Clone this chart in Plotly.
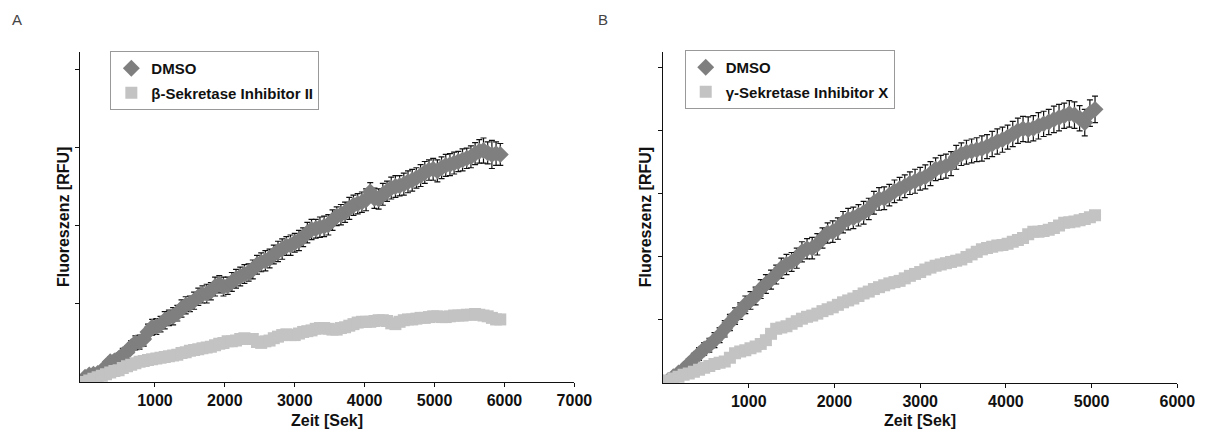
import plotly.graph_objects as go

# Messintervall [Sek]
INTERVALL = 60

# Panel A: DMSO vs. beta-Sekretase Inhibitor II (relative Fluoreszenz)
dmso_a = [0.06, 0.09, 0.10, 0.11, 0.13, 0.20, 0.26, 0.27, 0.30, 0.35,
          0.38, 0.45, 0.50, 0.51, 0.55, 0.64, 0.70, 0.71, 0.74, 0.79,
          0.82, 0.84, 0.88, 0.94, 0.98, 1.00, 1.04, 1.09, 1.12, 1.13,
          1.16, 1.22, 1.25, 1.22, 1.23, 1.28, 1.32, 1.35, 1.38, 1.40,
          1.44, 1.50, 1.53, 1.55, 1.58, 1.63, 1.67, 1.70, 1.74, 1.75,
          1.78, 1.81, 1.85, 1.91, 1.95, 1.96, 1.98, 1.99, 2.01, 2.07,
          2.12, 2.14, 2.17, 2.22, 2.26, 2.28, 2.30, 2.33, 2.43, 2.35,
          2.34, 2.40, 2.44, 2.48, 2.50, 2.51, 2.53, 2.56, 2.58, 2.61,
          2.64, 2.68, 2.71, 2.72, 2.70, 2.74, 2.77, 2.78, 2.80, 2.82,
          2.84, 2.86, 2.88, 2.92, 2.95, 2.96, 2.93, 2.91, 2.92, 2.91]
dmso_a_err = [0.03, 0.03, 0.04, 0.05, 0.05, 0.06, 0.06, 0.07, 0.07, 0.08,
              0.08, 0.08, 0.09, 0.09, 0.09, 0.10, 0.10, 0.10, 0.10, 0.11,
              0.10, 0.11, 0.10, 0.11, 0.11, 0.10, 0.11, 0.11, 0.11, 0.12,
              0.11, 0.12, 0.11, 0.12, 0.11, 0.12, 0.12, 0.12, 0.12, 0.11,
              0.12, 0.12, 0.12, 0.13, 0.12, 0.12, 0.13, 0.13, 0.12, 0.13,
              0.12, 0.13, 0.12, 0.13, 0.13, 0.12, 0.13, 0.13, 0.13, 0.13,
              0.12, 0.13, 0.13, 0.14, 0.13, 0.13, 0.13, 0.14, 0.12, 0.13,
              0.13, 0.14, 0.13, 0.14, 0.14, 0.13, 0.14, 0.14, 0.14, 0.13,
              0.14, 0.14, 0.13, 0.14, 0.14, 0.14, 0.14, 0.14, 0.14, 0.13,
              0.14, 0.13, 0.14, 0.14, 0.15, 0.16, 0.14, 0.18, 0.15, 0.14]
beta_a = [0.00, 0.02, 0.04, 0.06, 0.08, 0.10, 0.12, 0.14, 0.15, 0.18,
          0.20, 0.22, 0.24, 0.26, 0.27, 0.28, 0.29, 0.30, 0.31, 0.32,
          0.33, 0.34, 0.35, 0.37, 0.38, 0.40, 0.41, 0.42, 0.43, 0.44,
          0.45, 0.47, 0.49, 0.50, 0.52, 0.52, 0.53, 0.55, 0.56, 0.55,
          0.55, 0.51, 0.50, 0.52, 0.53, 0.56, 0.58, 0.60, 0.61, 0.60,
          0.60, 0.62, 0.64, 0.65, 0.66, 0.68, 0.69, 0.69, 0.68, 0.67,
          0.67, 0.69, 0.70, 0.72, 0.74, 0.76, 0.77, 0.77, 0.77, 0.78,
          0.79, 0.79, 0.78, 0.75, 0.74, 0.77, 0.79, 0.80, 0.80, 0.81,
          0.82, 0.82, 0.83, 0.84, 0.84, 0.83, 0.83, 0.84, 0.85, 0.85,
          0.85, 0.86, 0.86, 0.87, 0.86, 0.85, 0.84, 0.82, 0.80, 0.80]

# Panel B: DMSO vs. gamma-Sekretase Inhibitor X
dmso_b = [0.00, 0.04, 0.10, 0.16, 0.22, 0.30, 0.38, 0.46, 0.54, 0.60,
          0.68, 0.76, 0.86, 0.96, 1.06, 1.14, 1.24, 1.31, 1.38, 1.49,
          1.57, 1.64, 1.72, 1.82, 1.88, 1.92, 1.98, 2.08, 2.13, 2.14,
          2.20, 2.30, 2.38, 2.40, 2.45, 2.55, 2.60, 2.62, 2.66, 2.70,
          2.76, 2.86, 2.92, 2.93, 2.98, 3.04, 3.08, 3.12, 3.17, 3.20,
          3.24, 3.27, 3.32, 3.39, 3.42, 3.44, 3.48, 3.58, 3.63, 3.66,
          3.68, 3.70, 3.72, 3.75, 3.79, 3.83, 3.86, 3.90, 3.95, 4.00,
          4.03, 4.02, 4.04, 4.08, 4.11, 4.14, 4.18, 4.21, 4.24, 4.27,
          4.25, 4.20, 4.13, 4.28, 4.34]
dmso_b_err = [0.03, 0.04, 0.05, 0.06, 0.07, 0.08, 0.09, 0.10, 0.10, 0.11,
              0.12, 0.12, 0.13, 0.13, 0.13, 0.13, 0.14, 0.14, 0.14, 0.15,
              0.15, 0.15, 0.15, 0.16, 0.16, 0.15, 0.16, 0.16, 0.16, 0.17,
              0.17, 0.16, 0.16, 0.17, 0.17, 0.17, 0.17, 0.17, 0.17, 0.18,
              0.17, 0.18, 0.18, 0.18, 0.17, 0.18, 0.18, 0.18, 0.18, 0.19,
              0.18, 0.19, 0.19, 0.18, 0.19, 0.19, 0.19, 0.19, 0.18, 0.19,
              0.19, 0.19, 0.20, 0.19, 0.20, 0.20, 0.20, 0.19, 0.20, 0.20,
              0.20, 0.20, 0.20, 0.21, 0.20, 0.20, 0.21, 0.21, 0.20, 0.21,
              0.21, 0.20, 0.21, 0.21, 0.21]
gamma_b = [0.00, 0.04, 0.07, 0.10, 0.13, 0.15, 0.18, 0.21, 0.24, 0.27,
           0.30, 0.32, 0.34, 0.40, 0.47, 0.50, 0.52, 0.55, 0.58, 0.62,
           0.68, 0.78, 0.86, 0.88, 0.90, 0.94, 0.98, 1.02, 1.05, 1.07,
           1.10, 1.14, 1.17, 1.20, 1.24, 1.28, 1.31, 1.34, 1.38, 1.42,
           1.45, 1.49, 1.52, 1.55, 1.58, 1.60, 1.62, 1.66, 1.70, 1.73,
           1.76, 1.80, 1.83, 1.86, 1.88, 1.90, 1.92, 1.94, 1.96, 2.00,
           2.04, 2.08, 2.12, 2.14, 2.16, 2.18, 2.19, 2.21, 2.24, 2.27,
           2.30, 2.36, 2.40, 2.40, 2.41, 2.43, 2.46, 2.50, 2.54, 2.55,
           2.56, 2.58, 2.60, 2.63, 2.66]

# Zeitachsen [Sek]
zeit_a = [i * INTERVALL for i in range(len(dmso_a))]
zeit_b = [i * INTERVALL for i in range(len(dmso_b))]

x_ticks_a = [1000, 2000, 3000, 4000, 5000, 6000, 7000]
x_ticks_b = [1000, 2000, 3000, 4000, 5000, 6000]
y_ticks_a = [1, 2, 3, 4]
y_ticks_b = [1, 2, 3, 4, 5]

DARK = "#7f7f7f"
LIGHT = "#c3c3c3"
FONT = "Liberation Sans, Arial, sans-serif"

W, H = 1217, 435


def px_x(v):
    return v / W


def px_y(v):
    return 1 - v / H


fig = go.Figure()

fig.add_trace(go.Scatter(
    x=zeit_a, y=dmso_a, mode="markers", name="DMSO",
    marker=dict(symbol="diamond", size=13, color=DARK, line=dict(width=0)),
    error_y=dict(type="data", array=dmso_a_err, visible=True,
                 color="#111111", thickness=1.2, width=3),
    legend="legend", legendgroup="a1", xaxis="x", yaxis="y"))
fig.add_trace(go.Scatter(
    x=zeit_a, y=beta_a, mode="markers", name="β-Sekretase Inhibitor II",
    marker=dict(symbol="square", size=12, color=LIGHT, line=dict(width=0)),
    legend="legend", legendgroup="a2", xaxis="x", yaxis="y"))

fig.add_trace(go.Scatter(
    x=zeit_b, y=dmso_b, mode="markers", name="DMSO",
    marker=dict(symbol="diamond", size=13, color=DARK, line=dict(width=0)),
    error_y=dict(type="data", array=dmso_b_err, visible=True,
                 color="#111111", thickness=1.2, width=3),
    legend="legend2", legendgroup="b1", xaxis="x2", yaxis="y2"))
fig.add_trace(go.Scatter(
    x=zeit_b, y=gamma_b, mode="markers", name="γ-Sekretase Inhibitor X",
    marker=dict(symbol="square", size=12, color=LIGHT, line=dict(width=0)),
    legend="legend2", legendgroup="b2", xaxis="x2", yaxis="y2"))

axis_common = dict(
    showgrid=False, zeroline=False, showline=True, linecolor="#111111",
    linewidth=1.3, ticks="outside", ticklen=4, tickcolor="#111111",
    tickwidth=1, tickmode="array",
    tickfont=dict(family=FONT, size=16, color="#111111", weight="bold"),
)

legend_common = dict(
    xanchor="left", yanchor="top", bgcolor="white",
    bordercolor="#999999", borderwidth=1,
    traceorder="grouped", tracegroupgap=2, itemwidth=30,
    font=dict(family=FONT, size=15, color="#111111", weight="bold"),
)

fig.update_layout(
    width=W, height=H,
    margin=dict(l=0, r=0, t=0, b=0),
    paper_bgcolor="white", plot_bgcolor="white",
    showlegend=True,
    xaxis=dict(domain=[px_x(81), px_x(583)], range=[-75, 7000],
               tickvals=x_ticks_a, anchor="y", **axis_common),
    yaxis=dict(domain=[px_y(382), px_y(52)], range=[0, 4.22],
               tickvals=y_ticks_a, showticklabels=False, anchor="x",
               **axis_common),
    xaxis2=dict(domain=[px_x(673), px_x(1195)], range=[0, 6000],
                tickvals=x_ticks_b, anchor="y2", **axis_common),
    yaxis2=dict(domain=[px_y(383), px_y(52)], range=[0, 5.25],
                tickvals=y_ticks_b, showticklabels=False, anchor="x2",
                **axis_common),
    legend=dict(x=px_x(112), y=px_y(51), **legend_common),
    legend2=dict(x=px_x(695), y=px_y(50), **legend_common),
)

title_font = dict(family=FONT, size=16, color="#111111", weight="bold")
annotations = [
    dict(text="A", x=px_x(10), y=px_y(20), xanchor="left", yanchor="middle",
         font=dict(family=FONT, size=15, color="#444444")),
    dict(text="B", x=px_x(605), y=px_y(20), xanchor="left", yanchor="middle",
         font=dict(family=FONT, size=15, color="#444444")),
    dict(text="Zeit [Sek]", x=px_x(332), y=px_y(420), xanchor="center",
         yanchor="middle", font=title_font),
    dict(text="Zeit [Sek]", x=px_x(934), y=px_y(420), xanchor="center",
         yanchor="middle", font=title_font),
    dict(text="Fluoreszenz [RFU]", x=px_x(64), y=px_y(217), xanchor="center",
         yanchor="middle", textangle=-90, font=title_font),
    dict(text="Fluoreszenz [RFU]", x=px_x(655), y=px_y(217), xanchor="center",
         yanchor="middle", textangle=-90, font=title_font),
]
for a in annotations:
    a.update(xref="paper", yref="paper", showarrow=False)
fig.update_layout(annotations=annotations)

fig.write_html("out.html", config={"displayModeBar": False})
